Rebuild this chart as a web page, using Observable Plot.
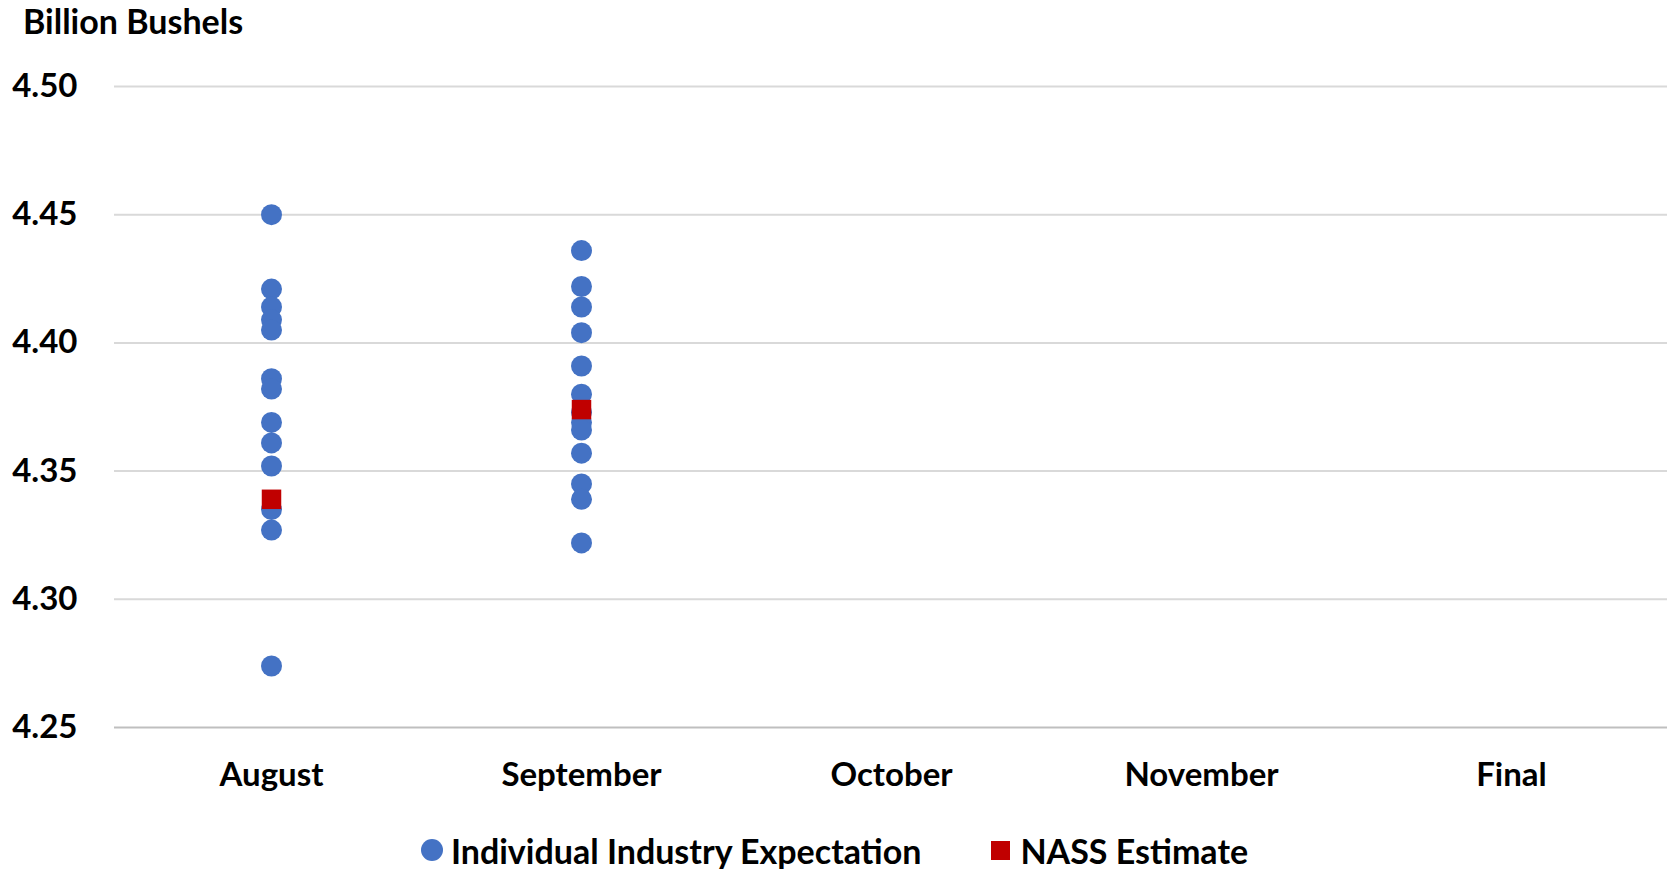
<!DOCTYPE html>
<html>
<head>
<meta charset="utf-8">
<script src="https://cdn.jsdelivr.net/npm/d3@7"></script>
<script src="https://cdn.jsdelivr.net/npm/@observablehq/plot@0.6"></script>
<style>
  html, body { margin: 0; padding: 0; background: #fff; }
  body { width: 1669px; height: 869px; overflow: hidden; font-family: Lato, "Open Sans", sans-serif; font-weight: 700; color: #000; }
  #title { height: 42px; line-height: 42px; font-size: 34px; padding-left: 23px; white-space: nowrap; }
  #chart svg { display: block; }
  #legend { display: flex; justify-content: center; align-items: center; margin-top: 30px; height: 40px; font-size: 34px; white-space: nowrap; }
  .item { display: flex; align-items: center; }
  .sw-dot { width: 22px; height: 22px; border-radius: 50%; background: #4472C4; margin-right: 8px; }
  .sw-sq { width: 19px; height: 19px; background: #C00000; margin-right: 10px; }
</style>
</head>
<body>
<div id="title">Billion Bushels</div>
<div id="chart"></div>
<div id="legend">
  <div class="item" style="margin-right:70px"><div class="sw-dot"></div><span>Individual Industry Expectation</span></div>
  <div class="item"><div class="sw-sq"></div><span>NASS Estimate</span></div>
</div>
<script>
const months = ["August", "September", "October", "November", "Final"];
const yTicks = [4.25, 4.30, 4.35, 4.40, 4.45, 4.50];
const augustExpectations = [4.450, 4.421, 4.414, 4.409, 4.405, 4.386, 4.382, 4.369, 4.361, 4.352, 4.335, 4.327, 4.274];
const septemberExpectations = [4.436, 4.422, 4.414, 4.404, 4.391, 4.380, 4.373, 4.369, 4.366, 4.357, 4.345, 4.339, 4.322];
const nassMonths = ["August", "September"];
const nassEstimates = [4.339, 4.374];

const expectations = [
  ...augustExpectations.map(v => ({month: "August", value: v})),
  ...septemberExpectations.map(v => ({month: "September", value: v}))
];
const nass = nassMonths.map((m, i) => ({month: m, value: nassEstimates[i]}));

const chart = Plot.plot({
  width: 1669,
  height: 758,
  marginLeft: 114,
  marginRight: 2,
  marginTop: 44,
  marginBottom: 73,
  style: {fontFamily: "Lato, 'Open Sans', sans-serif", fontWeight: 700, fontSize: "33px", color: "#000", background: "#fff"},
  x: {type: "band", domain: months, padding: 0, label: null},
  y: {domain: [4.25, 4.50], label: null},
  marks: [
    Plot.ruleY(yTicks.filter(t => t > 4.25), {stroke: "#d9d9d9", strokeWidth: 2}),
    Plot.ruleY([4.25], {stroke: "#bfbfbf", strokeWidth: 2}),
    Plot.axisY({ticks: yTicks, tickSize: 0, tickPadding: 37, tickFormat: d3.format(".2f"), label: null, fontWeight: 700}),
    Plot.axisX({tickSize: 0, tickPadding: 35, label: null, fontWeight: 700}),
    Plot.dot(expectations, {x: "month", y: "value", r: 10.5, fill: "#4472C4", stroke: "none"}),
    Plot.dot(nass, {x: "month", y: "value", r: 11, symbol: "square", fill: "#C00000", stroke: "none"})
  ]
});
document.getElementById("chart").appendChild(chart);
</script>
</body>
</html>
